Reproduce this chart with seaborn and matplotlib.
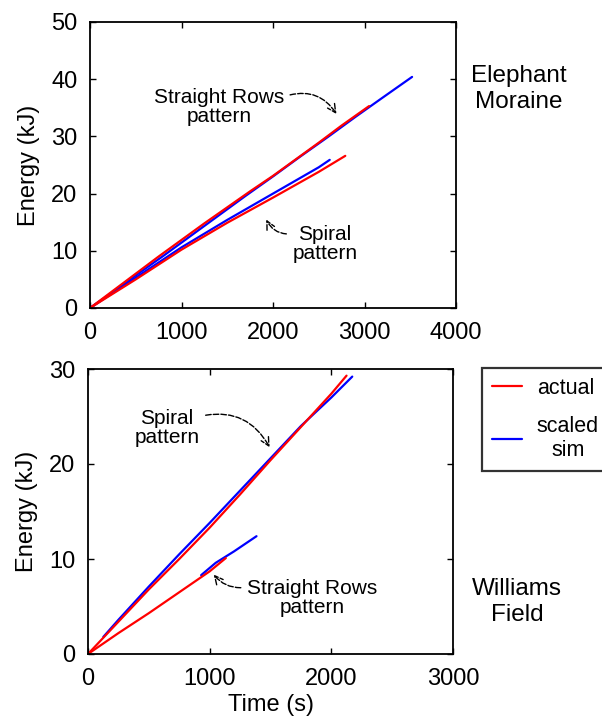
import matplotlib
matplotlib.use("Agg")
import matplotlib.pyplot as plt
import seaborn as sns
import pandas as pd
from matplotlib.lines import Line2D

# ---- Data ----
# Elephant Moraine
em_rows_actual_t = [0, 250, 500, 750, 1000, 1250, 1500, 1750, 2000, 2250, 2500, 2750, 3050]
em_rows_actual_e = [0, 3.0, 6.0, 9.0, 11.9, 14.8, 17.6, 20.4, 23.1, 26.0, 28.9, 31.9, 35.3]
em_rows_sim_t = [0, 250, 500, 800, 1100, 1400, 1700, 2000, 2300, 2600, 2900, 3200, 3520]
em_rows_sim_e = [0, 2.8, 5.7, 9.1, 12.6, 16.1, 19.6, 23.0, 26.5, 29.9, 33.4, 36.8, 40.4]
em_spiral_actual_t = [0, 500, 1000, 1500, 2000, 2500, 2790]
em_spiral_actual_e = [0, 5.0, 10.2, 14.9, 19.3, 23.8, 26.6]
em_spiral_sim_t = [0, 500, 1000, 1500, 2000, 2500, 2620]
em_spiral_sim_e = [0, 5.3, 10.6, 15.4, 20.0, 24.6, 25.9]

# Williams Field
wf_spiral_actual_t = [0, 250, 500, 750, 1000, 1250, 1500, 1750, 2000, 2125]
wf_spiral_actual_e = [0, 3.4, 6.8, 10.0, 13.3, 16.8, 20.4, 23.9, 27.4, 29.3]
wf_spiral_sim_t = [126, 250, 500, 750, 1000, 1250, 1500, 1750, 2000, 2172]
wf_spiral_sim_e = [1.8, 3.6, 7.1, 10.5, 13.8, 17.2, 20.6, 24.0, 27.0, 29.2]
wf_rows_actual_t = [0, 250, 500, 750, 1000, 1133]
wf_rows_actual_e = [0, 2.2, 4.3, 6.5, 8.7, 10.1]
wf_rows_sim_t = [930, 1050, 1200, 1385]
wf_rows_sim_e = [8.3, 9.6, 10.8, 12.4]

tick_fs = 17
RED = "#ff0000"
BLUE = "#0000ff"

sns.set_theme(style="ticks")
plt.rcParams['font.family'] = ['Liberation Sans', 'DejaVu Sans']
for k in ["text.color", "axes.labelcolor", "xtick.color", "ytick.color", "axes.edgecolor"]:
    plt.rcParams[k] = "black"

fig = plt.figure(figsize=(6.02, 7.19), dpi=100)
W, H = 602, 719
ax1 = fig.add_axes([90 / W, 1 - 308 / H, (456 - 90) / W, (308 - 22) / H])
ax2 = fig.add_axes([88 / W, 1 - 654 / H, (453 - 88) / W, (654 - 369) / H])

lw = 1.6
def draw(ax, t, e, c):
    df = pd.DataFrame({"t": t, "e": e})
    sns.lineplot(data=df, x="t", y="e", color=c, lw=lw, ax=ax, estimator=None, sort=False)

draw(ax1, em_rows_sim_t, em_rows_sim_e, BLUE)
draw(ax1, em_spiral_sim_t, em_spiral_sim_e, BLUE)
draw(ax1, em_rows_actual_t, em_rows_actual_e, RED)
draw(ax1, em_spiral_actual_t, em_spiral_actual_e, RED)

draw(ax2, wf_spiral_sim_t, wf_spiral_sim_e, BLUE)
draw(ax2, wf_spiral_actual_t, wf_spiral_actual_e, RED)
draw(ax2, wf_rows_sim_t, wf_rows_sim_e, BLUE)
draw(ax2, wf_rows_actual_t, wf_rows_actual_e, RED)

for ax, xmax, ymax, xt, yt in [(ax1, 4000, 50, [0, 1000, 2000, 3000, 4000], [0, 10, 20, 30, 40, 50]),
                               (ax2, 3000, 30, [0, 1000, 2000, 3000], [0, 10, 20, 30])]:
    ax.set_xlim(0, xmax)
    ax.set_ylim(0, ymax)
    ax.set_xticks(xt)
    ax.set_yticks(yt)
    ax.tick_params(direction="in", top=True, right=True, labelsize=tick_fs, length=4,
                   width=1, color="black")
    ax.tick_params(axis="x", pad=10)
    ax.tick_params(axis="y", pad=9)
    for s in ax.spines.values():
        s.set_visible(True)
        s.set_color("black")
        s.set_linewidth(1.3)
    ax.set_ylabel("Energy (kJ)", fontsize=tick_fs, labelpad=8)
    ax.set_xlabel("")
    ax.set_facecolor("white")

ax2.set_xlabel("Time (s)", fontsize=tick_fs, labelpad=3)

afs = 15
arrow = dict(arrowstyle="->", color="black", lw=1.0, linestyle=(0, (4, 1.5)))
ax1.annotate("Straight Rows\npattern", xy=(2710, 33.5), xytext=(1410, 35.1),
             fontsize=afs, ha="center", va="center", linespacing=1.0,
             arrowprops=dict(**arrow, connectionstyle="arc3,rad=-0.4",
                             relpos=(1.0, 0.78)))
ax1.annotate("Spiral\npattern", xy=(1913, 15.9), xytext=(2568, 11.2),
             fontsize=afs, ha="center", va="center", linespacing=1.0,
             arrowprops=dict(**arrow, connectionstyle="arc3,rad=-0.4",
                             relpos=(0.05, 0.78)))
ax2.annotate("Spiral\npattern", xy=(1504, 21.5), xytext=(650, 23.8),
             fontsize=afs, ha="center", va="center", linespacing=1.0,
             arrowprops=dict(**arrow, connectionstyle="arc3,rad=-0.4",
                             relpos=(0.95, 0.78)))
ax2.annotate("Straight Rows\npattern", xy=(1019, 8.6), xytext=(1841, 5.9),
             fontsize=afs, ha="center", va="center", linespacing=1.0,
             arrowprops=dict(**arrow, connectionstyle="arc3,rad=-0.3",
                             relpos=(0.0, 0.78)))

fig.text(519 / W, 1 - 89 / H, "Elephant\nMoraine", fontsize=tick_fs + 0.5, ha="center",
         va="center", linespacing=1.25)
fig.text(517 / W, 1 - 602 / H, "Williams\nField", fontsize=tick_fs + 0.5, ha="center",
         va="center", linespacing=1.25)

handles = [Line2D([], [], color=RED, lw=1.6), Line2D([], [], color=BLUE, lw=1.6)]
leg = fig.legend(handles, ["actual", "scaled\nsim"], loc="upper left",
                 bbox_to_anchor=(482 / W, 1 - 368 / H), fontsize=15.5,
                 frameon=True, fancybox=False, edgecolor="black", handlelength=1.4,
                 borderpad=0.45, labelspacing=0.8, handletextpad=0.7, borderaxespad=0)
leg.get_frame().set_linewidth(1.6)
for t in leg.get_texts():
    t.set_ha("center")

fig.savefig("out.png", dpi=100, facecolor="white")
